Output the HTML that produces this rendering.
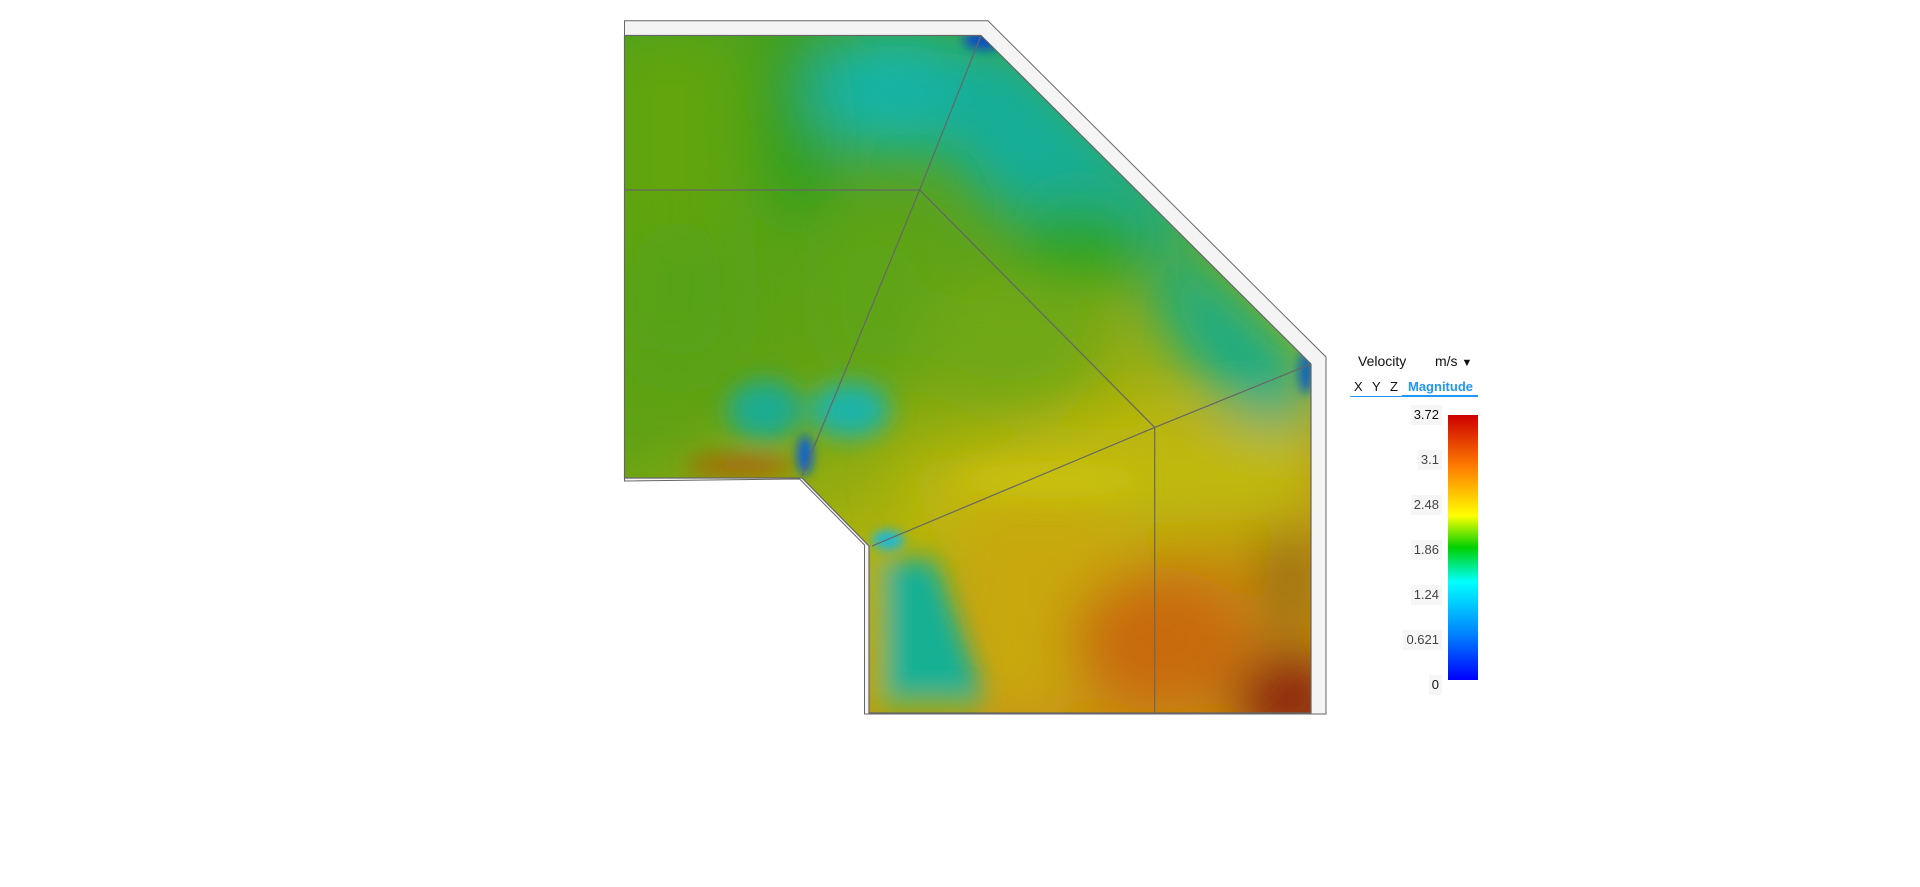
<!DOCTYPE html>
<html><head><meta charset="utf-8"><style>
html,body{margin:0;padding:0;background:#fff;width:1920px;height:887px;overflow:hidden;font-family:"Liberation Sans",sans-serif}
#legend{position:absolute;left:1346px;top:348px;width:140px;height:340px}
.lbl{position:absolute;right:44px;font-size:13px;color:#444;background:#f6f6f6;padding:2px 3px;line-height:16px}
</style></head><body>
<svg width="1920" height="887" style="position:absolute;left:0;top:0">
<defs>
<clipPath id="fluid"><polygon points="624.5,35.5 981,35.5 1311,364 1311,713 869,713 869,546 802,478 624.5,478"/></clipPath>
<filter id="b1" x="-50%" y="-50%" width="200%" height="200%"><feGaussianBlur stdDeviation="28"/></filter>
<filter id="b2" x="-50%" y="-50%" width="200%" height="200%"><feGaussianBlur stdDeviation="12"/></filter>
<filter id="b3" x="-50%" y="-50%" width="200%" height="200%"><feGaussianBlur stdDeviation="5"/></filter>
<linearGradient id="cb" x1="0" y1="1" x2="0" y2="0">
<stop offset="0" stop-color="#0000ff"/><stop offset="0.17" stop-color="#0080ff"/><stop offset="0.37" stop-color="#00ffff"/><stop offset="0.5" stop-color="#00d000"/><stop offset="0.62" stop-color="#ffff00"/><stop offset="0.8" stop-color="#ff8000"/><stop offset="1" stop-color="#cc0000"/>
</linearGradient>
<linearGradient id="base" x1="0" y1="0" x2="0.5" y2="1">
<stop offset="0" stop-color="#40a020"/><stop offset="0.5" stop-color="#62a214"/><stop offset="0.75" stop-color="#b0b20c"/><stop offset="1" stop-color="#c89010"/>
</linearGradient>
</defs>
<polygon points="624.5,20.8 988,20.8 1326,357 1326,714 864.5,714 864.5,545 799.6,479 624.5,481" fill="#f4f4f4" stroke="#666" stroke-width="1"/>
<g clip-path="url(#fluid)">
<rect x="600" y="20" width="740" height="700" fill="url(#base)"/>
<g filter="url(#b1)">
<rect x="600" y="30" width="140" height="330" fill="#62a510"/>
<ellipse cx="800" cy="120" rx="40" ry="100" fill="#30a01c"/>
<ellipse cx="900" cy="90" rx="90" ry="65" fill="#16b4a4"/>
<polygon points="960,40 1020,40 1200,220 1150,260 980,200 930,120" fill="#16ae98"/>
<ellipse cx="1080" cy="240" rx="70" ry="40" fill="#2aa424"/>
<polygon points="1180,240 1311,360 1311,470 1200,380 1150,300" fill="#18ac88"/>
<ellipse cx="680" cy="300" rx="60" ry="80" fill="#56a214"/>
<ellipse cx="880" cy="300" rx="60" ry="80" fill="#5ea414"/>
<ellipse cx="1010" cy="340" rx="90" ry="60" fill="#70a812"/>
<polygon points="900,470 1100,430 1311,420 1311,520 1100,520 950,560" fill="#c0ba0a"/>
<polygon points="960,500 1100,500 1180,600 1060,713 960,713" fill="#c8a810"/>
<ellipse cx="1160" cy="640" rx="90" ry="70" fill="#c86a10"/>
<ellipse cx="1290" cy="700" rx="55" ry="45" fill="#861a08"/>
<ellipse cx="1290" cy="580" rx="25" ry="60" fill="#906a10"/>
</g>
<g filter="url(#b2)">
<ellipse cx="765" cy="410" rx="38" ry="30" fill="#1aac90"/>
<ellipse cx="850" cy="410" rx="40" ry="28" fill="#1ab4a8"/>
<ellipse cx="1050" cy="480" rx="90" ry="18" fill="#c8c00a"/>
<polygon points="880,560 935,560 985,700 880,700" fill="#16b094"/>
<rect x="872" y="550" width="14" height="165" fill="#a8b410"/>
<rect x="880" y="695" width="100" height="20" fill="#80ae10"/>
<ellipse cx="740" cy="466" rx="55" ry="8" fill="#c04c10"/>
</g>
<g filter="url(#b3)">
<ellipse cx="985" cy="40" rx="22" ry="10" fill="#1050c0"/>
<ellipse cx="1306" cy="372" rx="7" ry="22" fill="#1060c0"/>
<ellipse cx="805" cy="455" rx="8" ry="20" fill="#1060d0"/>
<ellipse cx="888" cy="540" rx="16" ry="10" fill="#20b8d0"/>
</g>
</g>
<g stroke="#666" stroke-width="1.2" fill="none">
<line x1="624.5" y1="190" x2="919.6" y2="190"/>
<line x1="981" y1="35.5" x2="919.6" y2="190"/>
<line x1="919.6" y1="190" x2="802" y2="476"/>
<line x1="919.6" y1="190" x2="1154.7" y2="427.4"/>
<line x1="1154.7" y1="427.4" x2="1311" y2="364"/>
<line x1="1154.7" y1="427.4" x2="1154.7" y2="714"/>
<line x1="1154.7" y1="427.4" x2="872" y2="546"/>
<polygon points="624.5,35.5 981,35.5 1311,364 1311,713 869,713 869,546 802,478 624.5,478"/>
</g>
<rect x="1448" y="415" width="30" height="265" fill="url(#cb)"/>
</svg>
<div id="legend">
<div style="position:absolute;left:12px;top:5px;font-size:14px;color:#111">Velocity</div>
<div style="position:absolute;left:89px;top:5px;font-size:14px;color:#111">m/s <span style="font-size:11px">&#9660;</span></div>
<div style="position:absolute;left:4px;top:48px;width:128px;height:1px;background:#2196f3"></div>
<div style="position:absolute;left:56px;top:47px;width:76px;height:2px;background:#2196f3"></div>
<div style="position:absolute;left:8px;top:31px;font-size:13px;color:#111">X</div>
<div style="position:absolute;left:26px;top:31px;font-size:13px;color:#111">Y</div>
<div style="position:absolute;left:44px;top:31px;font-size:13px;color:#111">Z</div>
<div style="position:absolute;left:62px;top:31px;font-size:13px;color:#2196f3;font-weight:bold">Magnitude</div>
<div class="lbl" style="top:57px;color:#111">3.72</div>
<div class="lbl" style="top:102px">3.1</div>
<div class="lbl" style="top:147px">2.48</div>
<div class="lbl" style="top:192px">1.86</div>
<div class="lbl" style="top:237px">1.24</div>
<div class="lbl" style="top:282px">0.621</div>
<div class="lbl" style="top:327px;color:#111">0</div>
</div>
</body></html>
